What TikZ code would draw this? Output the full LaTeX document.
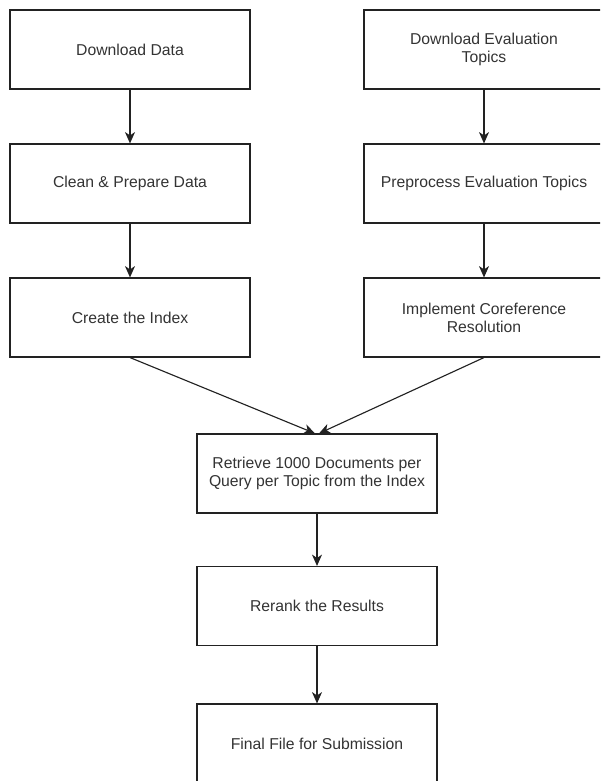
\documentclass[tikz,border=0pt]{standalone}
\usepackage{fontspec}
\setmainfont{Liberation Sans}
\usetikzlibrary{arrows.meta}
\definecolor{ink}{HTML}{222222}
\definecolor{txt}{HTML}{333333}
\begin{document}
\begin{tikzpicture}[x=0.75pt,y=-0.75pt,
  box/.style={draw=ink, line width=0.85pt, minimum width=180pt, minimum height=59.25pt,
    inner sep=0pt, align=center, font=\fontsize{11.8}{13.4}\selectfont, text=txt},
  arr/.style={draw=ink, line width=0.85pt, -{Stealth[length=8.5pt,width=7.5pt,inset=2.5pt]}}]
\useasboundingbox (0,0) rectangle (600,781);
\clip (0,0) rectangle (600,781);
\node[box] (dd)  at (130,49.5)  {Download Data};
\node[box] (cp)  at (130,183.5) {Clean \& Prepare Data};
\node[box] (ci)  at (130,317.5) {Create the Index};
\node[box] (det) at (484,49.5)  {Download Evaluation\\Topics};
\node[box] (pet) at (484,183.5) {Preprocess Evaluation Topics};
\node[box] (icr) at (484,317.5) {Implement Coreference\\Resolution};
\node[box] (ret) at (317,473.5) {Retrieve 1000 Documents per\\Query per Topic from the Index};
\node[box] (rr)  at (317,606)   {Rerank the Results};
\node[box] (ff)  at (317,743.5) {Final File for Submission};
\draw[arr] (dd) -- (cp);
\draw[arr] (cp) -- (ci);
\draw[arr] (det) -- (pet);
\draw[arr] (pet) -- (icr);
\draw[arr] (ci.south) -- ([xshift=-1.5pt]ret.north);
\draw[arr] (icr.south) -- ([xshift=1.5pt]ret.north);
\draw[arr] (ret) -- (rr);
\draw[arr] (rr) -- (ff);
\end{tikzpicture}
\end{document}
